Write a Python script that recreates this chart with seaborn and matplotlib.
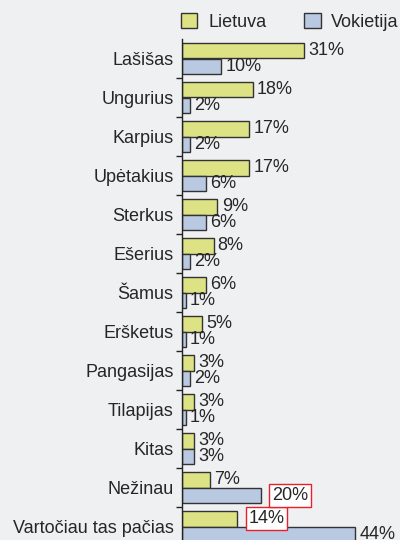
import pandas as pd
import seaborn as sns
import matplotlib.pyplot as plt
import numpy as np

categories = ['Lašišas', 'Ungurius', 'Karpius', 'Upėtakius', 'Sterkus', 'Ešerius',
              'Šamus', 'Eršketus', 'Pangasijas', 'Tilapijas', 'Kitas', 'Nežinau',
              'Vartočiau tas pačias']
lietuva = [31, 18, 17, 17, 9, 8, 6, 5, 3, 3, 3, 7, 14]
vokietija = [10, 2, 2, 6, 6, 2, 1, 1, 2, 1, 3, 20, 44]
series = ['Lietuva', 'Vokietija']
colors = ['#dde384', '#b9c9e1']

df = pd.DataFrame({
    'category': categories * 2,
    'value': lietuva + vokietija,
    'country': [series[0]] * len(categories) + [series[1]] * len(categories),
})

sns.set_style('white')
plt.rcParams['font.family'] = ['Liberation Sans', 'DejaVu Sans']
fs = 13

fig = plt.figure(figsize=(4, 5.4), dpi=100)
fig.patch.set_facecolor('#eff0f2')
ax = fig.add_axes([182 / 400, -6 / 540, 197 / 400, 507 / 540])
ax.set_facecolor('none')

sns.barplot(data=df, y='category', x='value', hue='country', order=categories,
            hue_order=series, palette=colors, width=0.82, edgecolor='#333333',
            linewidth=1, saturation=1, legend=False, ax=ax)

ax.set_xlim(0, 50)
ax.set_ylim(len(categories) - 0.5, -0.5)
ax.set_xlabel('')
ax.set_ylabel('')
ax.set_xticks([])
for s in ['top', 'right', 'bottom']:
    ax.spines[s].set_visible(False)
ax.spines['left'].set_color('#222222')
ax.spines['left'].set_linewidth(1)

ax.set_yticks(np.arange(len(categories)))
ax.set_yticklabels(categories, fontsize=fs)
ax.tick_params(axis='y', which='major', length=0, pad=6)
ax.set_yticks(np.arange(1, len(categories) + 1) - 0.5, minor=True)
ax.tick_params(axis='y', which='minor', length=4, width=1, color='#222222', left=True)

boxed = {(0, 12), (1, 11)}
for ci, cont in enumerate(ax.containers):
    texts = ax.bar_label(cont, labels=[f'{int(v)}%' for v in cont.datavalues],
                         padding=3, fontsize=fs)
    for i, t in enumerate(texts):
        if (ci, i) in boxed:
            t.set_bbox(dict(facecolor='white', edgecolor='#e8202a', linewidth=1, pad=2))
            t.xyann = (8, t.xyann[1])

handles = [plt.Rectangle((0, 0), 1, 1, facecolor=c, edgecolor='#333333', linewidth=1)
           for c in colors]
fig.legend(handles, series, loc='center', bbox_to_anchor=(0.725, 0.959), ncol=2,
           frameon=False, fontsize=fs, handlelength=0.9, handleheight=0.9,
           handletextpad=0.6, columnspacing=2.1, borderpad=0)

fig.savefig('out.png', dpi=100, facecolor=fig.get_facecolor())
